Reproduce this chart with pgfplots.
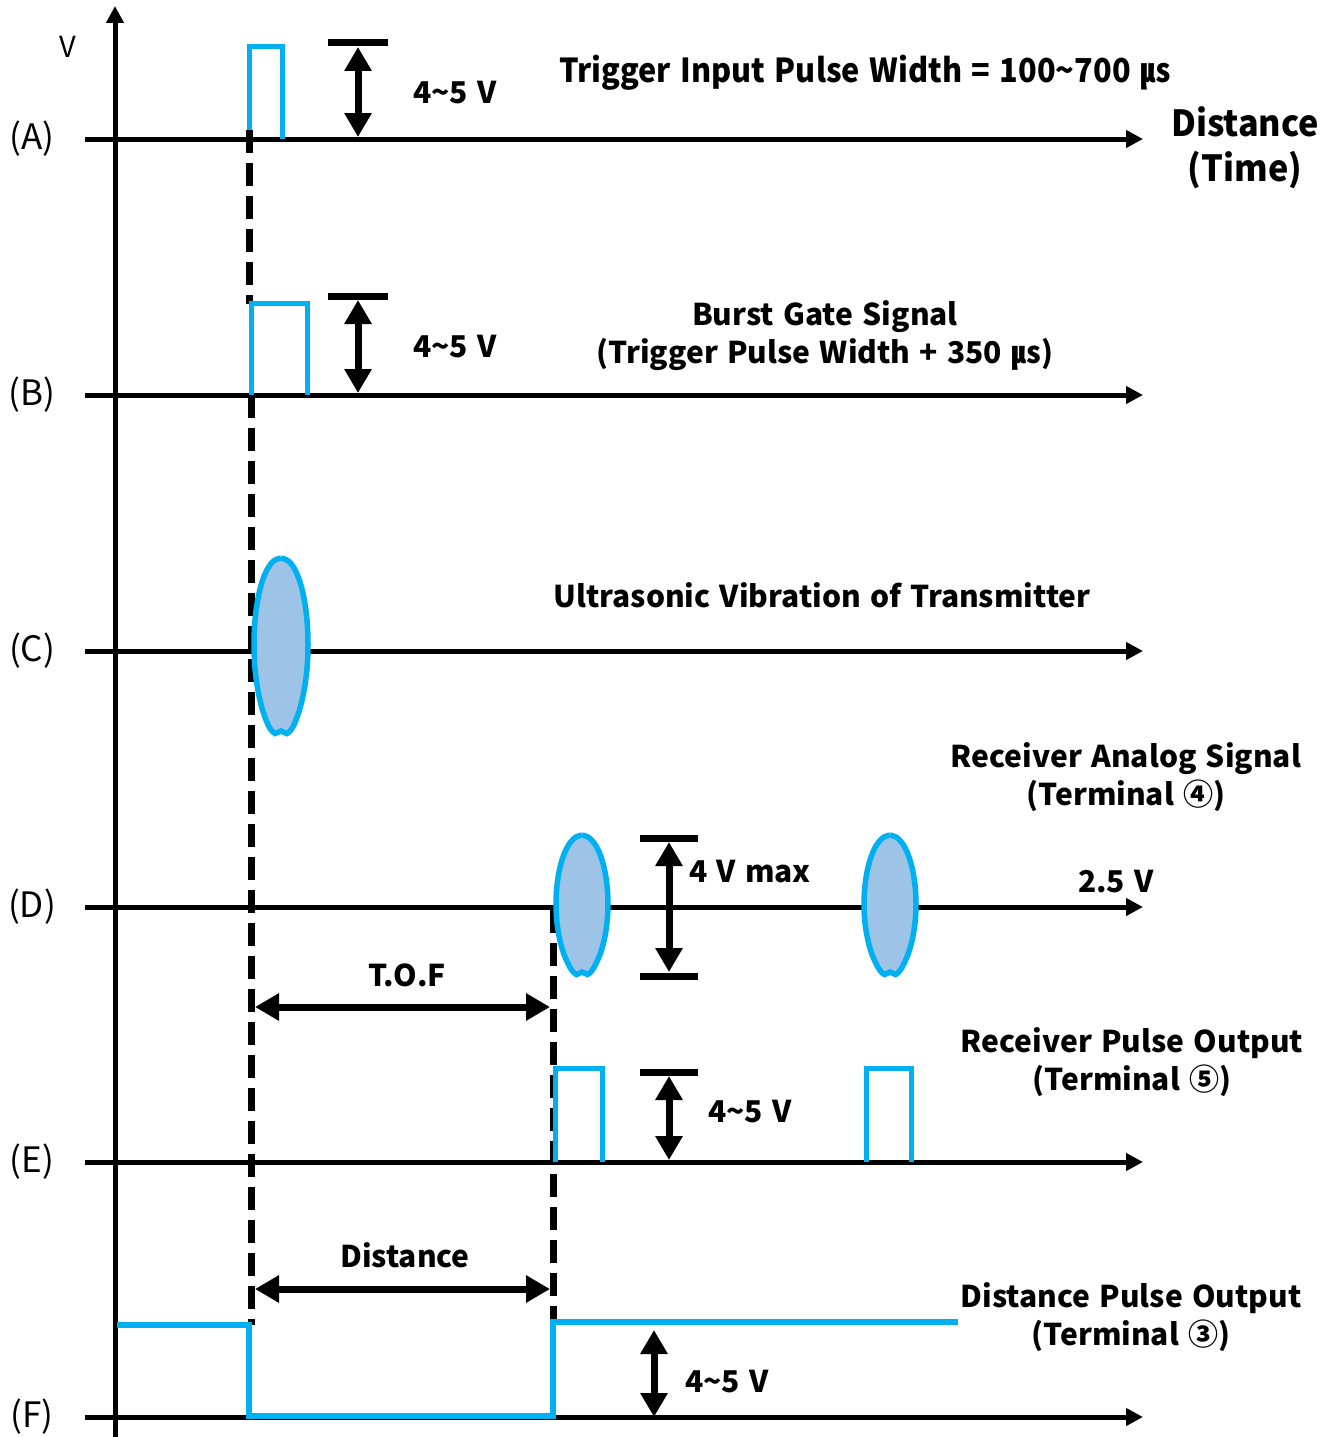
\documentclass[border=0pt]{standalone}
\usepackage{pgfplots}
\pgfplotsset{compat=1.18}
\usetikzlibrary{arrows.meta}
\usepackage{fontspec}
\setmainfont{Noto Sans CJK KR}[WordSpace=1.35]
\definecolor{sig}{HTML}{00B0F0}
\definecolor{blobfill}{HTML}{9DC3E6}
\newcommand{\tl}{\char"7E\relax}
\newcommand{\bt}{\fontsize{30}{38}\selectfont\bfseries}
\newcommand{\rl}{\fontsize{35}{40}\selectfont}
\begin{document}
\begin{tikzpicture}
\begin{axis}[name=ax,width=1337pt,height=1437pt,scale only axis,
  xmin=0,xmax=1337,ymin=0,ymax=1437,y dir=reverse,hide axis,clip=false,
  axarr/.style={black,line width=5pt,-{Triangle[width=17pt,length=17pt]}},
  dbl/.style={black,line width=7pt,{Triangle[width=26pt,length=24pt]}-{Triangle[width=26pt,length=24pt]}},
  bar/.style={black,line width=7pt},
  dsh/.style={black,line width=7pt,dash pattern=on 23pt off 10pt},
  pul/.style={sig,line width=5pt},
  blob/.style={draw=sig,fill=blobfill,line width=5.5pt,smooth,tension=0.55}]
% main axes
\addplot[axarr] coordinates {(115,1437) (115,6)};
\addplot[axarr] coordinates {(85,139) (1143,139)};
\addplot[axarr] coordinates {(85,395) (1143,395)};
\addplot[axarr] coordinates {(85,651) (1143,651)};
\addplot[axarr] coordinates {(85,907) (1143,907)};
\addplot[axarr] coordinates {(85,1162) (1143,1162)};
\addplot[axarr] coordinates {(85,1417) (1143,1417)};
% dashed markers
\addplot[dsh] coordinates {(249,130) (249,304)};
\addplot[dsh] coordinates {(251,395) (251,1325)};
\addplot[dsh] coordinates {(553,910) (553,1322)};
% (A) pulse
\addplot[pul] coordinates {(249,130) (249,47) (282,47) (282,139)};
\addplot[bar] coordinates {(328,43) (388,43)};
\addplot[dbl] coordinates {(358,47) (358,137)};
% (B) pulse
\addplot[pul] coordinates {(251,395) (251,303) (307,303) (307,395)};
\addplot[bar] coordinates {(328,296) (388,296)};
\addplot[dbl] coordinates {(358,300) (358,393)};
% (C) transmitter vibration
\addplot[blob] coordinates {(281,558) (288.5,561) (295,569.7) (300.5,583.5) (304.6,601.5) (307.2,622.5) (308,645) (307.1,667.5) (304.4,688.5) (300.5,706.5) (296,720) (292,728.5) (287,733.5) (281,731) (275,733.5) (270,728.5) (266,720) (261.5,706.5) (257.6,688.5) (254.9,667.5) (254,645) (254.8,622.5) (257.4,601.5) (261.5,583.5) (267,569.7) (273.5,561) (281,558)};
% (D) received signal
\addplot[blob] coordinates {(582,835) (588.7,837.4) (595,844.2) (600.4,855.2) (604.5,869.5) (607.1,886.1) (608,904) (607.1,921.9) (604.5,938.5) (600.6,952.8) (596,963.5) (592,970.5) (587.5,974.5) (582,972) (576.5,974.5) (572,970.5) (568,963.5) (563.4,952.8) (559.5,938.5) (556.9,921.9) (556,904) (556.9,886.1) (559.5,869.5) (563.6,855.2) (569,844.2) (575.3,837.4) (582,835)};
\addplot[blob] coordinates {(890,835) (896.7,837.4) (903,844.2) (908.4,855.2) (912.5,869.5) (915.1,886.1) (916,904) (915.1,921.9) (912.5,938.5) (908.6,952.8) (904,963.5) (900,970.5) (895.5,974.5) (890,972) (884.5,974.5) (880,970.5) (876,963.5) (871.4,952.8) (867.5,938.5) (864.9,921.9) (864,904) (864.9,886.1) (867.5,869.5) (871.6,855.2) (877,844.2) (883.3,837.4) (890,835)};
\addplot[bar] coordinates {(640,838) (698,838)};
\addplot[bar] coordinates {(640,976) (698,976)};
\addplot[dbl] coordinates {(669,842) (669,972)};
\addplot[dbl] coordinates {(255,1007) (550,1007)};
% (E) receiver pulses
\addplot[pul] coordinates {(555,1162) (555,1068) (602,1068) (602,1162)};
\addplot[pul] coordinates {(866,1162) (866,1068) (911,1068) (911,1162)};
\addplot[bar] coordinates {(640,1072) (698,1072)};
\addplot[dbl] coordinates {(669,1076) (669,1160)};
% (F) distance pulse
\addplot[dbl] coordinates {(255,1289) (550,1289)};
\addplot[sig,line width=6pt] coordinates {(117,1325) (249,1325) (249,1416) (553,1416) (553,1322) (958,1322)};
\addplot[dbl] coordinates {(654,1330) (654,1417)};
% labels
\node[font=\fontsize{29}{34}\selectfont] at (axis cs:68,47) {V};
\node[font=\rl] at (axis cs:32,139) {(A)};
\node[font=\rl] at (axis cs:32,395) {(B)};
\node[font=\rl] at (axis cs:32,651) {(C)};
\node[font=\rl] at (axis cs:32,907) {(D)};
\node[font=\rl] at (axis cs:32,1162) {(E)};
\node[font=\rl] at (axis cs:32,1417) {(F)};
\node[font=\bt] at (axis cs:455,93) {4\tl5 V};
\node[font=\bt] at (axis cs:455,347) {4\tl5 V};
\node[font=\bt] at (axis cs:750,1112) {4\tl5 V};
\node[font=\bt] at (axis cs:727,1382) {4\tl5 V};
\node[font=\bt] at (axis cs:750,872) {4 V max};
\node[font=\bt] at (axis cs:1116,882) {2.5 V};
\node[font=\bt] at (axis cs:407,975) {T.O.F};
\node[font=\bt] at (axis cs:405,1255) {Distance};
\node[font=\bt] at (axis cs:865,73) {\scalebox{0.93}[1]{\fontsize{33}{38}\selectfont Trigger Input Pulse Width = 100\tl700 ㎲}};
\node[font=\fontsize{36}{45}\selectfont\bfseries,align=center] at (axis cs:1245,148) {\scalebox{0.95}[1]{Distance}\\\scalebox{0.95}[1]{(Time)}};
\node[font=\bt,align=center] at (axis cs:825,336) {Burst Gate Signal\\(Trigger Pulse Width + 350 ㎲)};
\node[font=\bt] at (axis cs:822,595) {Ultrasonic Vibration of Transmitter};
\node[font=\bt,align=center] at (axis cs:1126,777) {Receiver Analog Signal\\(Terminal ④)};
\node[font=\bt,align=center] at (axis cs:1132,1062) {Receiver Pulse Output\\(Terminal ⑤)};
\node[font=\bt,align=center] at (axis cs:1131,1317) {Distance Pulse Output\\(Terminal ③)};
\end{axis}
\pgfresetboundingbox
\path[use as bounding box] (ax.south west) rectangle (ax.north east);
\end{tikzpicture}
\end{document}
